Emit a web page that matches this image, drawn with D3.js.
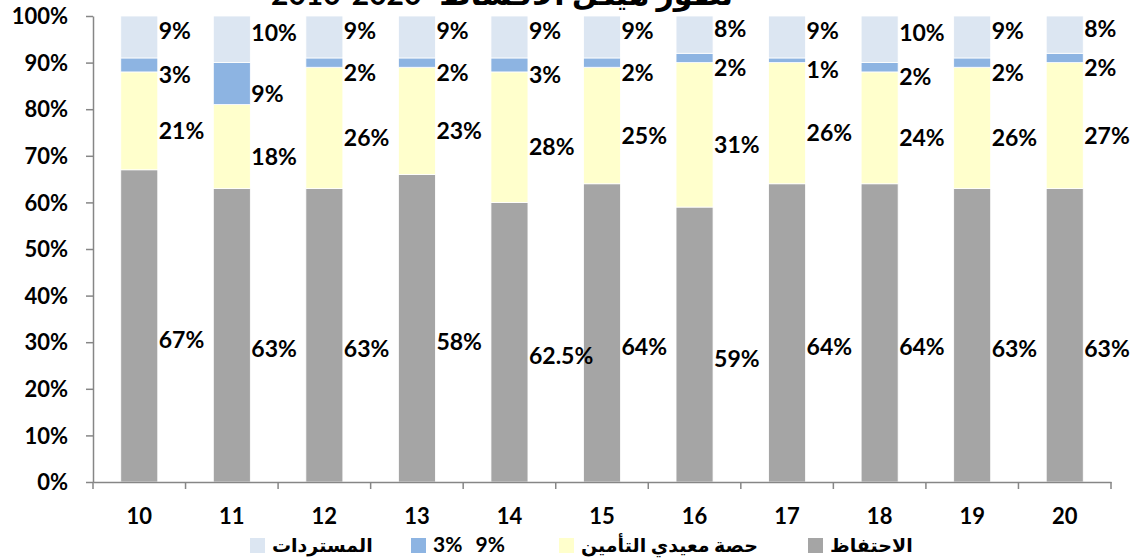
<!DOCTYPE html>
<html>
<head>
<meta charset="utf-8">
<script src="https://cdn.jsdelivr.net/npm/d3@7"></script>
<style>
  body { margin: 0; background: #fff; }
  svg { display: block; font-family: Lato, "DejaVu Sans", sans-serif; font-weight: bold; }
</style>
</head>
<body>
<script>
const years = ["10", "11", "12", "13", "14", "15", "16", "17", "18", "19", "20"];
// heights of the stacked segments as drawn (percent)
const retention = [67, 63, 63, 66, 60, 64, 59, 64, 64, 63, 63];
const reinsurers = [21, 18, 26, 23, 28, 25, 31, 26, 24, 26, 27];
const mid = [3, 9, 2, 2, 3, 2, 2, 1, 2, 2, 2];
const refunds = [9, 10, 9, 9, 9, 9, 8, 9, 10, 9, 8];
// data labels as printed on the chart
const retentionLbl = ["67%", "63%", "63%", "58%", "62.5%", "64%", "59%", "64%", "64%", "63%", "63%"];
const reinsurersLbl = ["21%", "18%", "26%", "23%", "28%", "25%", "31%", "26%", "24%", "26%", "27%"];
const midLbl = ["3%", "9%", "2%", "2%", "3%", "2%", "2%", "1%", "2%", "2%", "2%"];
const refundsLbl = ["9%", "10%", "9%", "9%", "9%", "9%", "8%", "9%", "10%", "9%", "8%"];
const seriesNames = ["الاحتفاظ", "حصة معيدي التأمين", "3% 9%", "المستردات"];
const colors = ["#A5A5A5", "#FFFFCC", "#8DB4E2", "#DCE6F2"];
const yTicks = [0, 10, 20, 30, 40, 50, 60, 70, 80, 90, 100];
const titleYears = "2010-2020";
const titleText = "تطور هيكل الأقساط";

const width = 1132, height = 559;
const padLeft = 93, padRight = 1111, padTop = 16, padBottom = 482;

const svg = d3.select("body").append("svg")
  .attr("width", width).attr("height", height);

// title (cut off at the top in the original)
svg.append("text")
  .attr("x", 271).attr("y", 5)
  .style("font-size", "30px")
  .text(titleYears);
svg.append("text")
  .attr("x", 733).attr("y", 5)
  .attr("text-anchor", "end")
  .style("font-size", "30px")
  .text(titleText);

const x = d3.scaleBand(years, [padLeft, padRight]);
const y = d3.scaleLinear([0, 100], [padBottom, padTop]);
const barW = x.bandwidth() * 0.4;

const rows = years.map((yr, i) => ({
  year: yr,
  s0: retention[i], s1: reinsurers[i], s2: mid[i], s3: 100 - retention[i] - reinsurers[i] - mid[i]
}));
const labels = [retentionLbl, reinsurersLbl, midLbl, refundsLbl];
const labelShift = [14, 10, 10, -6];

const stack = d3.stack().keys(["s0", "s1", "s2", "s3"])(rows);

// y axis
const yAxis = svg.append("g")
  .attr("transform", "translate(" + padLeft + ",0)")
  .call(d3.axisLeft(y).tickValues(yTicks).tickSize(7).tickSizeOuter(0).tickFormat(d => d + "%"));
yAxis.select(".domain").attr("stroke", "#868686").attr("stroke-width", 1.5);
yAxis.selectAll(".tick line").attr("stroke", "#868686").attr("stroke-width", 1.5);
yAxis.selectAll(".tick text").attr("x", -25).attr("dy", "0.35em")
  .style("font-size", "22px").style("font-family", "Lato, 'DejaVu Sans', sans-serif").attr("fill", "#000");

// bars
stack.forEach((s, k) => {
  svg.append("g").selectAll("rect")
    .data(s)
    .enter()
    .append("rect")
    .attr("x", d => x(d.data.year) + (x.bandwidth() - barW) / 2)
    .attr("y", d => y(d[1]))
    .attr("width", barW)
    .attr("height", d => y(d[0]) - y(d[1]))
    .attr("fill", colors[k])
    .attr("stroke", "#fff")
    .attr("stroke-width", 0.8);
});

// data labels
stack.forEach((s, k) => {
  svg.append("g").selectAll("text")
    .data(s)
    .enter()
    .append("text")
    .attr("x", d => x(d.data.year) + (x.bandwidth() + barW) / 2 + 1)
    .attr("y", d => y((d[0] + d[1]) / 2) + labelShift[k])
    .attr("dy", "0.35em")
    .style("font-size", "23px")
    .text((d, i) => labels[k][i]);
});

// x axis
const xAxis = svg.append("g")
  .attr("transform", "translate(0," + padBottom + ")")
  .call(d3.axisBottom(x).tickSize(0).tickSizeOuter(0));
xAxis.select(".domain").attr("stroke", "#868686").attr("stroke-width", 1.5);
xAxis.selectAll(".tick text").attr("y", 34).attr("dy", "0.35em")
  .style("font-size", "22px").style("font-family", "Lato, 'DejaVu Sans', sans-serif").attr("fill", "#000");
xAxis.selectAll(".sep")
  .data(years.concat(["end"]))
  .enter()
  .append("line")
  .attr("x1", (d, i) => padLeft + i * x.step())
  .attr("x2", (d, i) => padLeft + i * x.step())
  .attr("y1", 0).attr("y2", 7)
  .attr("stroke", "#868686").attr("stroke-width", 1.5);

// legend
const legendX = [808, 559, 411, 250];
const leg = svg.append("g").selectAll("g")
  .data(seriesNames)
  .enter()
  .append("g")
  .attr("transform", (d, i) => "translate(" + legendX[i] + ",538)");
leg.append("rect").attr("width", 15).attr("height", 15).attr("fill", (d, i) => colors[i]);
leg.append("text")
  .attr("x", 22).attr("y", 7).attr("dy", "0.35em")
  .style("font-size", (d, i) => i == 2 ? "21px" : "19px")
  .attr("word-spacing", (d, i) => i == 2 ? "8" : "0")
  .text(d => d);
</script>
</body>
</html>
